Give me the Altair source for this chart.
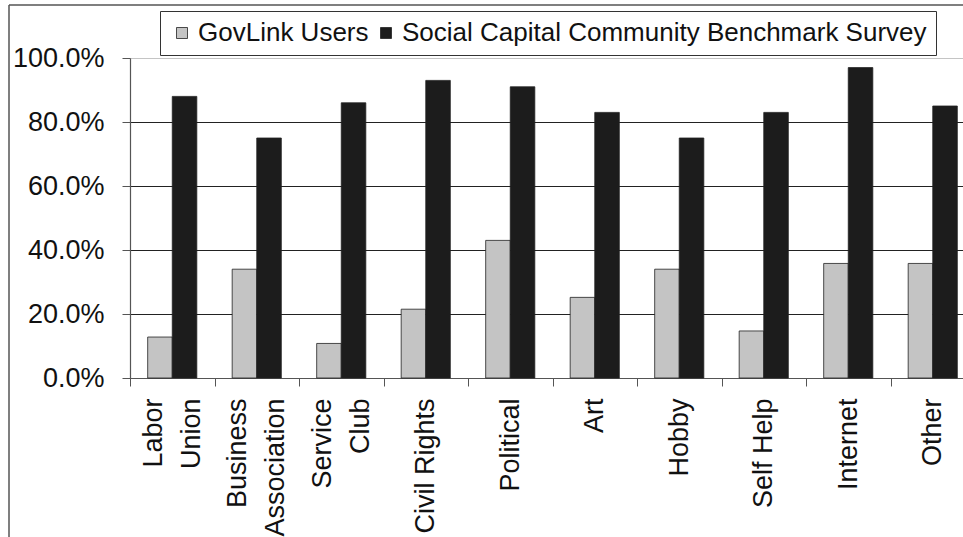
import altair as alt
import pandas as pd

categories = ["Labor\nUnion", "Business\nAssociation", "Service\nClub", "Civil Rights",
              "Political", "Art", "Hobby", "Self Help", "Internet", "Other"]
govlink = [0.128, 0.34, 0.108, 0.215, 0.43, 0.252, 0.34, 0.147, 0.358, 0.358]
sccbs = [0.88, 0.75, 0.86, 0.93, 0.91, 0.83, 0.75, 0.83, 0.97, 0.85]
series = ["GovLink Users", "Social Capital Community Benchmark Survey"]

rows = []
for c, g, s in zip(categories, govlink, sccbs):
    rows.append({"cat": c, "series": series[0], "value": g})
    rows.append({"cat": c, "series": series[1], "value": s})
df = pd.DataFrame(rows)

FONT = "Liberation Sans"
STEP = 84.5
LH = 38

bars = alt.Chart(df).mark_bar(stroke="#222222", strokeWidth=0.8).encode(
    x=alt.X("cat:N", sort=categories, title=None,
            scale=alt.Scale(range=[0, STEP * len(categories)], paddingInner=0, paddingOuter=0),
            axis=alt.Axis(labelAngle=-90, labelAlign="right", labelBaseline="middle",
                          labelExpr="split(datum.label, '\\n')", labelLineHeight=LH,
                          labelFontSize=27, labelFont=FONT, labelColor="#111111",
                          labelPadding=12, tickSize=8, tickColor="#555555",
                          tickOffset=-STEP / 2,
                          labelOffset={"condition": {"test": "indexof(datum.label, '\\n') >= 0",
                                                     "value": STEP / 2 - LH / 2},
                                       "value": STEP / 2},
                          labelLimit=0,
                          domainColor="#555555", domainWidth=1.2, grid=False)),
    xOffset=alt.XOffset("series:N", sort=series,
                        scale=alt.Scale(paddingInner=0, paddingOuter=0.72)),
    y=alt.Y("value:Q", title=None,
            scale=alt.Scale(domain=[0, 1], nice=False),
            axis=alt.Axis(format=".1%", values=[0, 0.2, 0.4, 0.6, 0.8, 1.0],
                          labelFontSize=27, labelFont=FONT, labelColor="#111111",
                          labelPadding=18, tickSize=8, tickColor="#555555",
                          domainColor="#555555", domainWidth=1.2,
                          grid=True,
                          gridColor={"condition": {"test": "datum.value >= 1", "value": "#aaaaaa"},
                                     "value": "#222222"},
                          gridDash={"condition": {"test": "datum.value >= 1", "value": [1, 1]},
                                    "value": []},
                          gridWidth=1)),
    color=alt.Color("series:N", sort=series,
                    scale=alt.Scale(domain=series, range=["#c4c4c4", "#1c1c1c"]),
                    legend=alt.Legend(title=None, orient="none", legendX=30, legendY=-47,
                                      direction="horizontal", symbolType="square",
                                      symbolSize=121, symbolStrokeColor="#222222",
                                      symbolStrokeWidth=0.8, symbolOpacity=1,
                                      labelFontSize=26, labelFont=FONT, labelColor="#111111",
                                      labelLimit=0,
                                      labelOffset=3, columnPadding=4, padding=9,
                                      strokeColor="#333333", fillColor="white")),
)

frame_df = pd.DataFrame({"k": [0]})
left_border = alt.Chart(frame_df).mark_rule(color="#555555", strokeWidth=1.5).encode(
    x=alt.value(-121), y=alt.value(-53), y2=alt.value(479))
top_border = alt.Chart(frame_df).mark_rule(color="#555555", strokeWidth=1.5).encode(
    x=alt.value(-121), x2=alt.value(833), y=alt.value(-53))

chart = alt.layer(bars, left_border, top_border).properties(
    width=833, height=320,
    autosize=alt.AutoSizeParams(type="none"),
    padding={"left": 130, "top": 58, "right": 0, "bottom": 159},
).configure_view(stroke=None).configure(background="white")

chart.save("out.html", embed_options={"renderer": "svg", "actions": False})
